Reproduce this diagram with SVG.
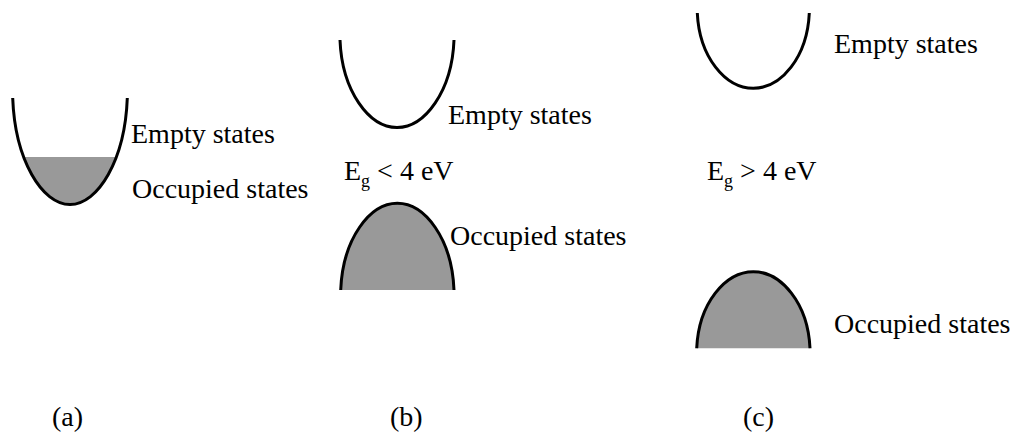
<svg xmlns="http://www.w3.org/2000/svg" width="1017" height="448" viewBox="0 0 1017 448">
<style>
text{font-family:"Liberation Serif","Times New Roman",serif;font-size:28px;fill:#000}
.band{fill:none;stroke:#000;stroke-width:3}
.fill{fill:#999;stroke:none}
.sub{font-size:18px}
</style>
<defs>
  <clipPath id="levelA"><rect x="0" y="157" width="140" height="60"/></clipPath>
</defs>
<rect width="1017" height="448" fill="#fff"/>
<g id="panel-a">
  <path class="fill" clip-path="url(#levelA)" d="M12.7,98 C15,160 42,204.5 70,204.5 C98,204.5 125,160 127.3,98 Z"/>
  <path class="band" d="M12.7,98 C15,160 42,204.5 70,204.5 C98,204.5 125,160 127.3,98"/>
  <text x="131" y="143">Empty states</text>
  <text x="132" y="198">Occupied states</text>
</g>
<g id="panel-b">
  <path class="band" d="M340,40 C342,91 369,127.5 397,127.5 C425,127.5 452,91 454,40"/>
  <path class="fill" d="M340.7,290 C342.7,239 369.7,203.3 397.3,203.3 C425,203.3 452,239 454,290 Z"/>
  <path class="band" d="M340.7,290 C342.7,239 369.7,203.3 397.3,203.3 C425,203.3 452,239 454,290"/>
  <text x="448" y="124">Empty states</text>
  <text x="344" y="180">E<tspan class="sub" dy="7">g</tspan><tspan dy="-7"> &lt; 4 eV</tspan></text>
  <text x="450" y="245">Occupied states</text>
</g>
<g id="panel-c">
  <path class="band" d="M697.3,13 C699.3,57 725.3,88.3 753.3,88.3 C781.3,88.3 807.3,57 809.3,13"/>
  <path class="fill" d="M696.7,348.3 C698.7,303.3 725.3,271.7 753.3,271.7 C781.3,271.7 808,303.3 810,348.3 Z"/>
  <path class="band" d="M696.7,348.3 C698.7,303.3 725.3,271.7 753.3,271.7 C781.3,271.7 808,303.3 810,348.3"/>
  <text x="834" y="53">Empty states</text>
  <text x="707" y="180">E<tspan class="sub" dy="7">g</tspan><tspan dy="-7"> &gt; 4 eV</tspan></text>
  <text x="834" y="333">Occupied states</text>
</g>
<g id="labels">
  <text x="52" y="426">(a)</text>
  <text x="390" y="426">(b)</text>
  <text x="743" y="426">(c)</text>
</g>
<g id="connectors"/>
</svg>
